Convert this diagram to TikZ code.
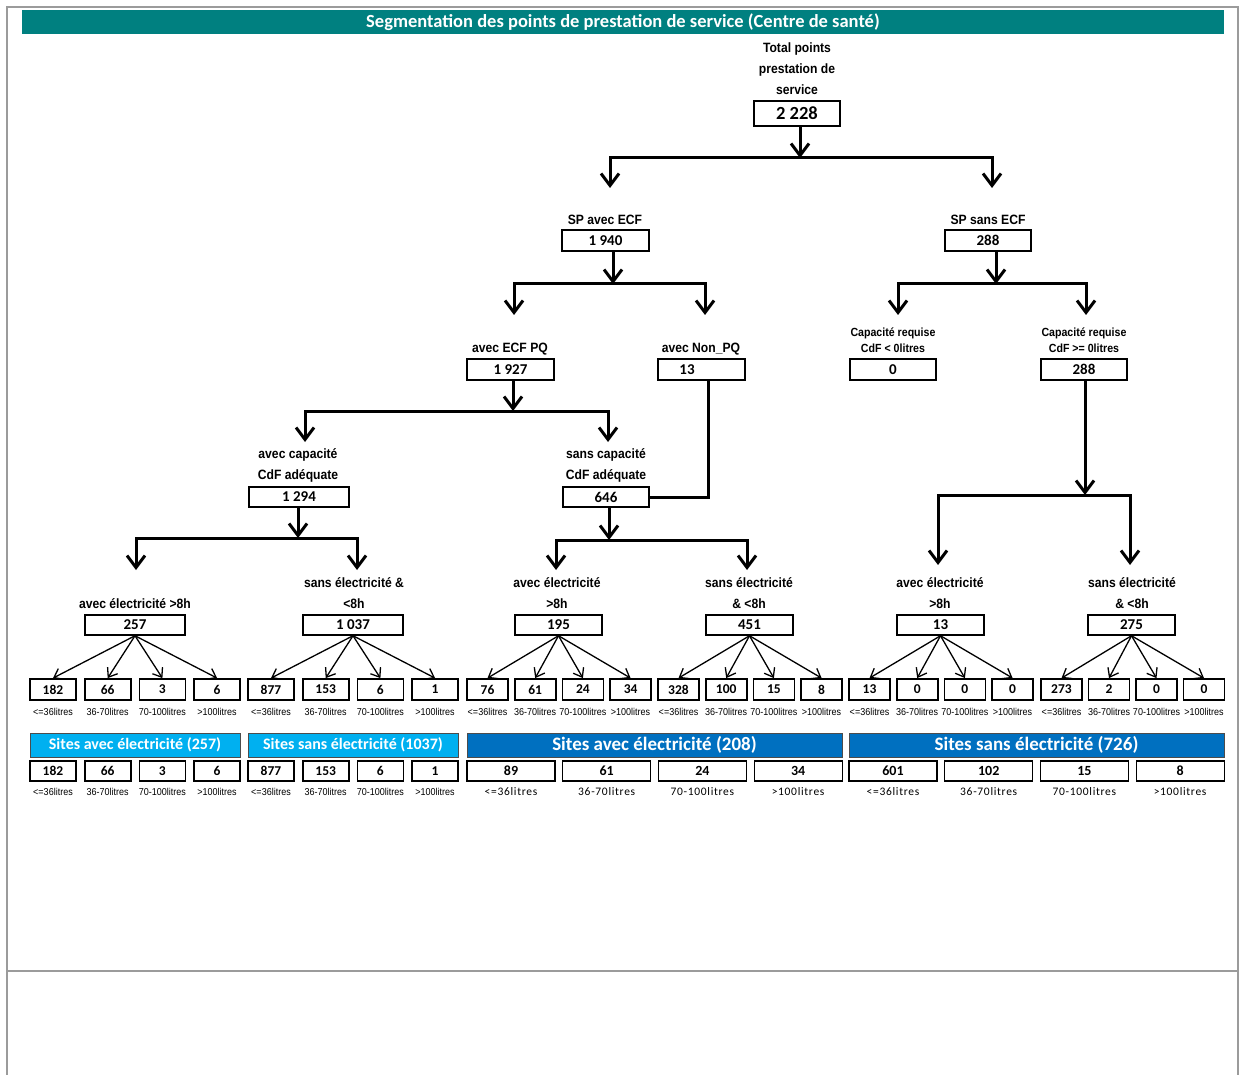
\documentclass[tikz,border=0pt]{standalone}
\usepackage{fontspec}
\setmainfont{Carlito}
\newfontfamily\narrowfont[FakeStretch=0.9]{Liberation Sans}
\usetikzlibrary{arrows.meta,positioning}

\definecolor{titleteal}{RGB}{0,128,128}
\definecolor{sitecyan}{RGB}{0,176,240}
\definecolor{siteblue}{RGB}{0,112,192}
\definecolor{framegray}{RGB}{155,155,155}

\begin{document}
\begin{tikzpicture}[x=1pt, y=-1pt,
    lbl/.style={font=\narrowfont\bfseries\fontsize{13.5}{21}\selectfont, align=center, inner sep=0pt},
    lblcap/.style={lbl, font=\narrowfont\bfseries\fontsize{11.8}{16}\selectfont},
    box/.style={draw, line width=1.5pt, minimum height=21pt, inner sep=0pt, font=\bfseries\fontsize{15}{18}\selectfont},
    cell/.style={box, line width=1.8pt, font=\bfseries\fontsize{13.5}{16}\selectfont},
    wcell/.style={box, line width=1.2pt, minimum height=20pt, font=\bfseries\fontsize{14}{16}\selectfont},
    litre/.style={font=\narrowfont\fontsize{10}{12}\selectfont, inner sep=0pt},
    wlitre/.style={font=\addfontfeature{LetterSpace=6}\fontsize{11.5}{13}\selectfont, inner sep=0pt},
    hdr/.style={draw=black!70, line width=1pt, minimum height=24pt, inner sep=0pt, text=white, font=\bfseries\fontsize{16}{19}\selectfont},
    trunk/.style={line width=3pt, -{Straight Barb[length=12pt,width=18pt]}},
    split/.style={line width=3pt, {Straight Barb[length=12pt,width=18pt]}-{Straight Barb[length=12pt,width=18pt]}},
    fan/.style={line width=1.3pt, -{Straight Barb[length=8pt,width=12pt]}},
    link/.style={line width=3pt}
]
\useasboundingbox (0,0) rectangle (1240,1075);

% Frame
\draw[framegray, line width=2pt] (7,1075) -- (7,7) -- (1238,7) -- (1238,1075);
\draw[framegray, line width=2pt] (7,971) -- (1238,971);

% Title
\node[fill=titleteal, minimum width=1202pt, minimum height=24pt, inner sep=0pt, text=white,
      font=\bfseries\fontsize{18.5}{21}\selectfont] (title) at (623,22)
      {Segmentation des points de prestation de service (Centre de santé)};

% Total
\node[lbl] (lbltot) at (797,68.5) {Total points\\prestation de\\service};
\node[box, minimum width=86pt, minimum height=25pt, line width=2pt, font=\bfseries\fontsize{18.5}{21}\selectfont] (tot) at (797,113.5) {2 228};

% SP avec / sans ECF
\node[lbl] (lblsp1) at (605,220) {SP avec ECF};
\node[box, minimum width=87pt] (sp1) at (605.5,240.5) {1 940};
\node[lbl] (lblsp2) at (988,220) {SP sans ECF};
\node[box, minimum width=86pt] (sp2) at (988,240.5) {288};

% PQ / Non PQ / capacite requise
\node[lbl] (lblpq) at (510,349) {avec ECF PQ};
\node[box, minimum width=87pt] (pq) at (510.5,369.5) {1 927};
\node[lbl] (lblnpq) at (701,349) {avec Non\_PQ};
\node[box, minimum width=87pt] (npq) at (701.5,369.5) {13\kern29pt};
\node[lblcap] (lblcr1) at (893,340) {Capacité requise\\CdF < 0litres};
\node[box, minimum width=86pt] (cr1) at (893,369.5) {0};
\node[lblcap] (lblcr2) at (1084,340) {Capacité requise\\CdF >= 0litres};
\node[box, minimum width=86pt] (cr2) at (1084,369.5) {288};

% Capacite CdF
\node[lbl] (lblcap1) at (298,465.5) {avec capacité\\CdF adéquate};
\node[box, minimum width=100pt, minimum height=20pt] (cap1) at (299,497) {1 294};
\node[lbl] (lblcap2) at (606,465.5) {sans capacité\\CdF adéquate};
\node[box, minimum width=86pt, minimum height=20pt] (cap2) at (606,497) {646};

% Electricite
\node[lbl] (lblg1) at (135,604) {avec électricité >8h};
\node[box, minimum width=100pt, minimum height=20pt] (g1) at (135,625) {257};
\node[lbl] (lblg2) at (354,593.5) {sans électricité \&\\<8h};
\node[box, minimum width=100pt, minimum height=20pt] (g2) at (353,625) {1 037};
\node[lbl] (lblg3) at (557,593.5) {avec électricité\\>8h};
\node[box, minimum width=87pt, minimum height=20pt] (g3) at (558.5,625) {195};
\node[lbl] (lblg4) at (749,593.5) {sans électricité\\\& <8h};
\node[box, minimum width=87pt, minimum height=20pt] (g4) at (749.5,625) {451};
\node[lbl] (lblg5) at (940,593.5) {avec électricité\\>8h};
\node[box, minimum width=87pt, minimum height=20pt] (g5) at (940.5,625) {13};
\node[lbl] (lblg6) at (1132,593.5) {sans électricité\\\& <8h};
\node[box, minimum width=87pt, minimum height=20pt] (g6) at (1131.5,625) {275};

% Elbow splits: parent / bar x / bar y / left drop / right drop / drop end
\foreach \p/\bx/\by/\la/\lb/\ly in {tot/800/158/610/992/188, sp1/613/284/514/705/315,
    sp2/996/284/898/1086/315, pq/513/411/305/608/442, cr2/1085/495/938/1130/565,
    cap1/298/538/136/357/570, cap2/609/540/556/747/570} {
  \coordinate (\p-bar) at (\bx,\by);
  \coordinate (\p-l) at (\la,\ly);
  \coordinate (\p-r) at (\lb,\ly);
  \draw[trunk] (\p.south -| \p-bar) -- (\p-bar);
  \draw[split] (\p-l) |- (\p-bar) -| (\p-r);
}
\draw[link] ([xshift=6.5pt]npq.south) |- (cap2.east);

% Volume classes under each group
\foreach \g/\sx/\st/\bw/\va/\vb/\vc/\vd in {
    g1/53/54.7/46pt/182/66/3/6, g2/271/54.7/46pt/877/153/6/1,
    g3/487.5/47.7/41pt/76/61/24/34, g4/678.5/47.7/41pt/328/100/15/8,
    g5/869.5/47.7/41pt/13/0/0/0, g6/1061.5/47.5/41pt/273/2/0/0} {
  \foreach \v/\r [count=\i] in {\va/{<=36litres},\vb/{36-70litres},\vc/{70-100litres},\vd/{>100litres}} {
    \node[cell, minimum width=\bw] (\g-\i) at (\sx+\st*\i-\st,689.5) {\v};
    \node[litre] (\g-l\i) at (\sx+\st*\i-\st,712) {\r};
    \draw[fan] (\g.south) -- (\g-\i.north);
  }
}

% Summary
\node[hdr, fill=sitecyan, minimum width=210pt] (h1) at (135,745) {Sites avec électricité (257)};
\node[hdr, fill=sitecyan, minimum width=210pt] (h2) at (353,745) {Sites sans électricité (1037)};
\node[hdr, fill=siteblue, minimum width=375pt, font=\bfseries\fontsize{19}{22}\selectfont] (h3) at (654.5,745) {Sites avec électricité (208)};
\node[hdr, fill=siteblue, minimum width=375pt, font=\bfseries\fontsize{19}{22}\selectfont] (h4) at (1036.5,745) {Sites sans électricité (726)};

\foreach \h/\sx/\va/\vb/\vc/\vd in {h1/53/182/66/3/6, h2/271/877/153/6/1} {
  \foreach \v/\r [count=\i] in {\va/{<=36litres},\vb/{36-70litres},\vc/{70-100litres},\vd/{>100litres}} {
    \node[cell, minimum width=46pt, minimum height=20pt] (\h-\i) at (\sx+54.7*\i-54.7,771) {\v};
    \node[litre] (\h-l\i) at (\sx+54.7*\i-54.7,792) {\r};
  }
}
\foreach \h/\sx/\va/\vb/\vc/\vd in {h3/511/89/61/24/34, h4/893/601/102/15/8} {
  \foreach \v/\r [count=\i] in {\va/{<=36litres},\vb/{36-70litres},\vc/{70-100litres},\vd/{>100litres}} {
    \node[wcell, minimum width=88pt] (\h-\i) at (\sx+95.7*\i-95.7,771) {\v};
    \node[wlitre] (\h-l\i) at (\sx+95.7*\i-95.7,792) {\r};
  }
}

\end{tikzpicture}
\end{document}
